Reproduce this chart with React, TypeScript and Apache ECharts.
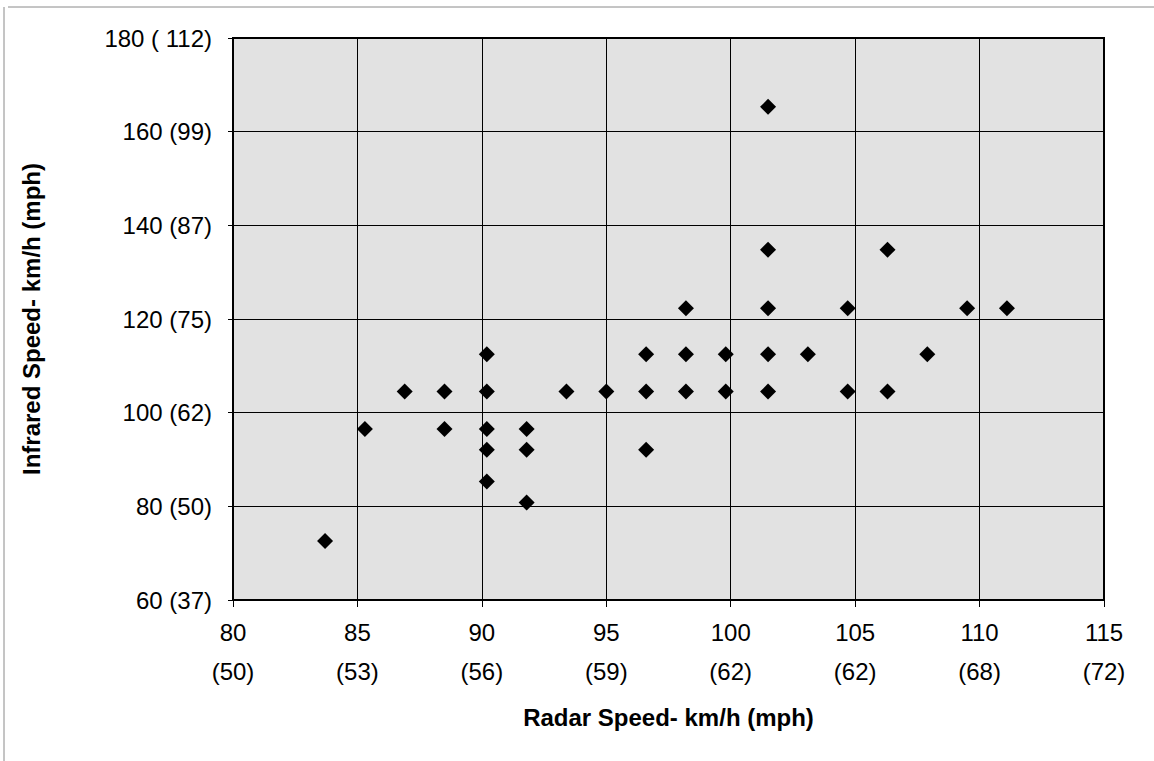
import React, { useEffect, useRef } from "react";
import * as echarts from "echarts";

// Radar speed (km/h) and infrared speed (km/h) for each observation
const radarKmh = [
  83.7, 85.3, 86.9, 88.5, 88.5, 90.2, 90.2, 90.2, 90.2, 90.2, 91.8, 91.8,
  91.8, 93.4, 95.0, 96.6, 96.6, 96.6, 98.2, 98.2, 98.2, 99.8, 99.8, 101.5,
  101.5, 101.5, 101.5, 101.5, 103.1, 104.7, 104.7, 106.3, 106.3, 107.9,
  109.5, 111.1,
];
const infraredKmh = [
  72.6, 96.5, 104.5, 104.5, 96.5, 112.5, 104.5, 96.5, 92.1, 85.3, 96.5, 92.1,
  80.8, 104.5, 104.5, 112.5, 104.5, 92.1, 122.3, 112.5, 104.5, 112.5, 104.5,
  165.3, 134.8, 122.3, 112.5, 104.5, 112.5, 122.3, 104.5, 134.8, 104.5,
  112.5, 122.3, 122.3,
];

const xTickValues = [80, 85, 90, 95, 100, 105, 110, 115];
const xTickMph = ["(50)", "(53)", "(56)", "(59)", "(62)", "(62)", "(68)", "(72)"];
const yTickValues = [60, 80, 100, 120, 140, 160, 180];
const yTickLabels = [
  "60 (37)",
  "80 (50)",
  "100 (62)",
  "120 (75)",
  "140 (87)",
  "160 (99)",
  "180 ( 112)",
];

const xTitle = "Radar Speed- km/h (mph)";
const yTitle = "Infrared Speed- km/h (mph)";

export default function App() {
  const ref = useRef<HTMLDivElement>(null);

  useEffect(() => {
    if (!ref.current) return;
    const chart = echarts.init(ref.current, null, { renderer: "svg" });
    const font = "'Liberation Sans', Arial, sans-serif";
    const points = radarKmh.map((x, i) => [x, infraredKmh[i]]);

    chart.setOption({
      animation: false,
      backgroundColor: "#ffffff",
      grid: {
        left: 233,
        top: 38,
        right: 50,
        bottom: 161,
        show: true,
        backgroundColor: "#e2e2e2",
        borderColor: "#000000",
        borderWidth: 2,
      },
      xAxis: {
        type: "value",
        min: 80,
        max: 115,
        interval: 5,
        name: xTitle,
        nameLocation: "middle",
        nameGap: 105,
        nameTextStyle: {
          fontFamily: font,
          fontSize: 24,
          fontWeight: "bold",
          color: "#000",
          verticalAlign: "top",
        },
        axisLine: { show: true, onZero: false, lineStyle: { color: "#000", width: 2 } },
        axisTick: { show: true, inside: false, length: 7, lineStyle: { color: "#000", width: 1 } },
        splitLine: { show: true, lineStyle: { color: "#000", width: 1 } },
        axisLabel: {
          margin: 13,
          fontFamily: font,
          fontSize: 24,
          color: "#000",
          lineHeight: 39,
          formatter: (v: number) => {
            const i = xTickValues.indexOf(v);
            return i >= 0 ? `${v}\n${xTickMph[i]}` : "";
          },
        },
      },
      yAxis: {
        type: "value",
        min: 60,
        max: 180,
        interval: 20,
        name: yTitle,
        nameLocation: "middle",
        nameGap: 190,
        nameRotate: 90,
        nameTextStyle: {
          fontFamily: font,
          fontSize: 24,
          fontWeight: "bold",
          color: "#000",
        },
        axisLine: { show: true, onZero: false, lineStyle: { color: "#000", width: 2 } },
        axisTick: { show: true, inside: false, length: 5, lineStyle: { color: "#000", width: 1 } },
        splitLine: { show: true, lineStyle: { color: "#000", width: 1 } },
        axisLabel: {
          margin: 21,
          fontFamily: font,
          fontSize: 24,
          color: "#000",
          formatter: (v: number) => {
            const i = yTickValues.indexOf(v);
            return i >= 0 ? yTickLabels[i] : "";
          },
        },
      },
      series: [
        {
          type: "scatter",
          data: points,
          symbol: "diamond",
          symbolSize: 16,
          itemStyle: { color: "#000000", opacity: 1 },
        },
      ],
      graphic: [
        {
          type: "line",
          shape: { x1: 8, y1: 7, x2: 1154, y2: 7 },
          style: { stroke: "#8a8a8a", lineWidth: 1 },
          silent: true,
        },
        {
          type: "line",
          shape: { x1: 4, y1: 7, x2: 4, y2: 761 },
          style: { stroke: "#8a8a8a", lineWidth: 1 },
          silent: true,
        },
      ],
    });

    return () => chart.dispose();
  }, []);

  return (
    <div
      ref={ref}
      style={{ position: "absolute", left: 0, top: 0, width: 1154, height: 761 }}
    />
  );
}
